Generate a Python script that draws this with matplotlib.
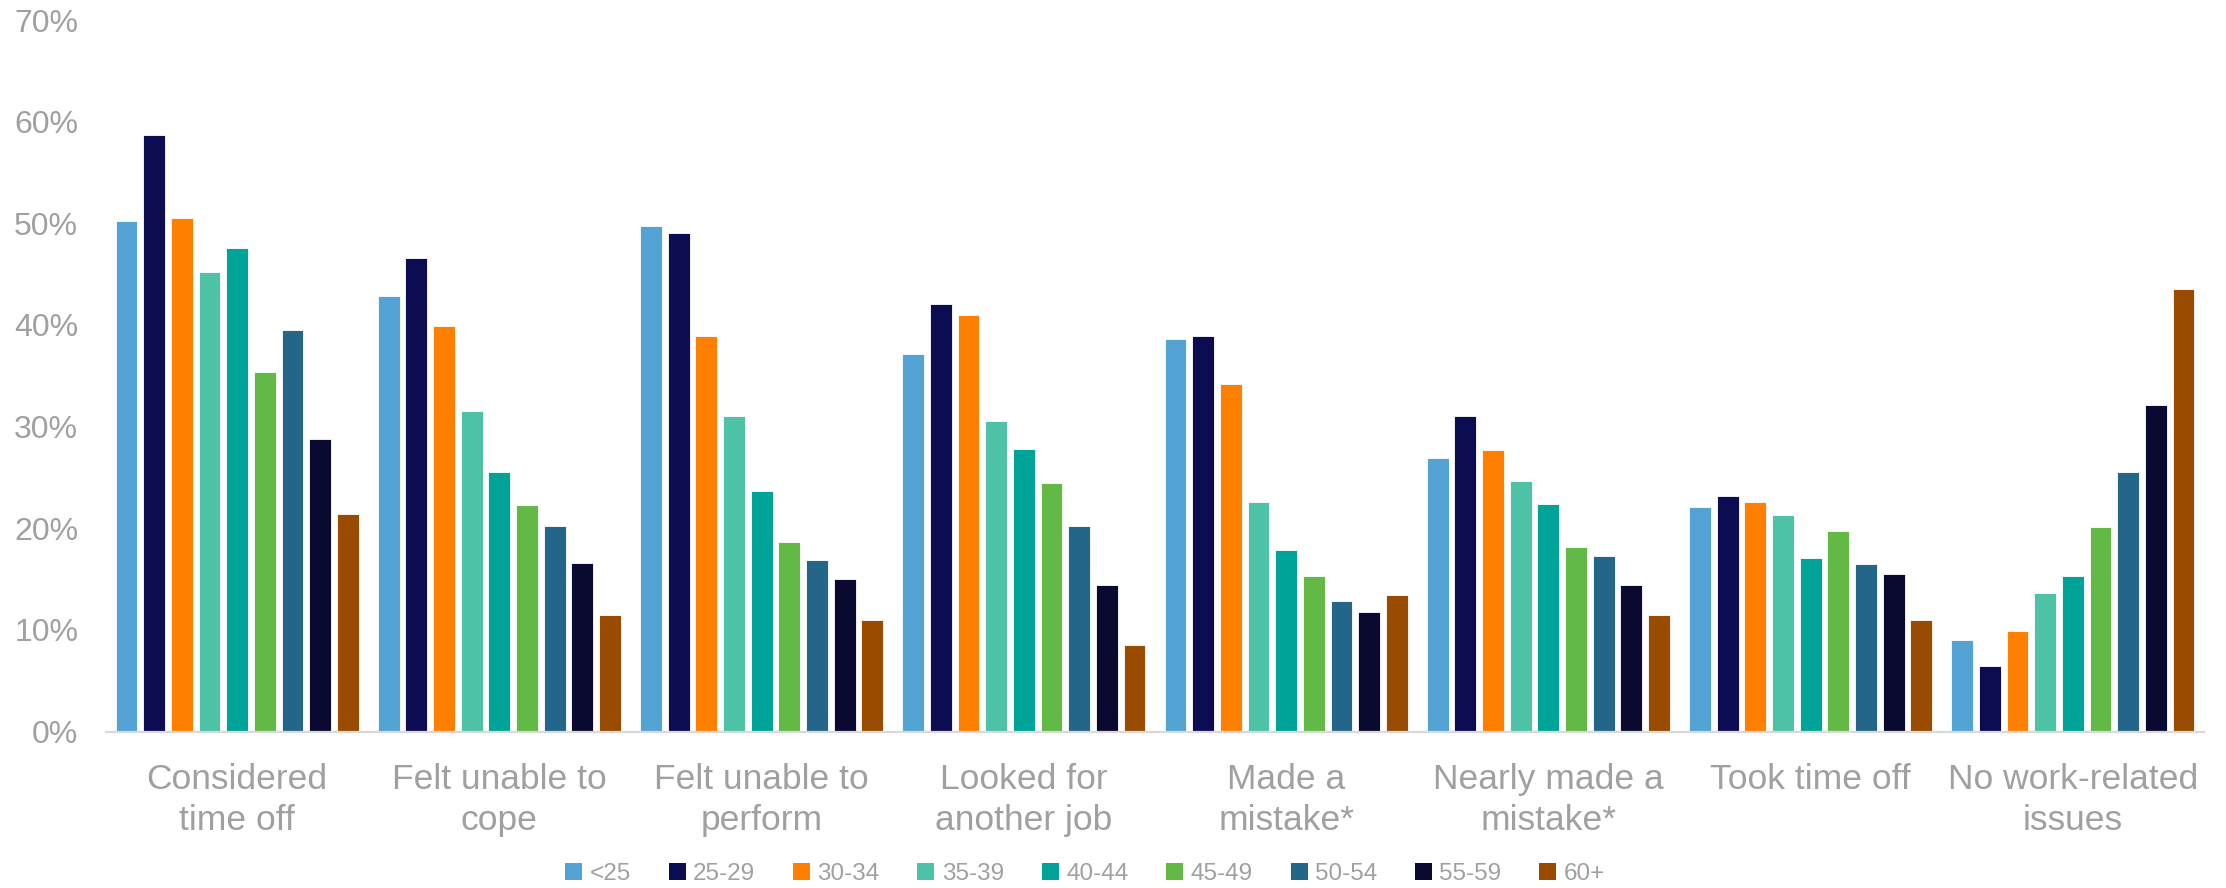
import numpy as np
import matplotlib
matplotlib.use("Agg")
import matplotlib.pyplot as plt
from matplotlib.patches import Patch
from matplotlib.ticker import PercentFormatter

# categories on the x axis (two-line labels)
categories = [
    "Considered\ntime off",
    "Felt unable to\ncope",
    "Felt unable to\nperform",
    "Looked for\nanother job",
    "Made a\nmistake*",
    "Nearly made a\nmistake*",
    "Took time off",
    "No work-related\nissues",
]

age_groups = ["<25", "25-29", "30-34", "35-39", "40-44", "45-49", "50-54", "55-59", "60+"]

# share of respondents (%) per age group, one value per category
under_25 = [50.2, 42.8, 49.7, 37.1, 38.6, 26.9, 22.1, 9.0]
age_25_29 = [58.7, 46.6, 49.0, 42.1, 38.9, 31.0, 23.2, 6.4]
age_30_34 = [50.5, 39.9, 38.9, 41.0, 34.2, 27.7, 22.6, 9.9]
age_35_39 = [45.2, 31.5, 31.0, 30.5, 22.6, 24.6, 21.3, 13.6]
age_40_44 = [47.6, 25.5, 23.7, 27.8, 17.9, 22.4, 17.1, 15.3]
age_45_49 = [35.4, 22.3, 18.6, 24.4, 15.3, 18.2, 19.7, 20.1]
age_50_54 = [39.5, 20.2, 16.9, 20.2, 12.8, 17.3, 16.5, 25.5]
age_55_59 = [28.8, 16.6, 15.0, 14.4, 11.8, 14.4, 15.5, 32.1]
age_60_plus = [21.4, 11.5, 11.0, 8.5, 13.4, 11.5, 11.0, 43.5]

series = [under_25, age_25_29, age_30_34, age_35_39, age_40_44,
          age_45_49, age_50_54, age_55_59, age_60_plus]

colors = ["#53A4D4", "#0C0C52", "#FF8000", "#4DC2A6", "#00A398",
          "#62B946", "#246689", "#0A0A30", "#994C00"]

grey = "#A0A0A0"
plt.rcParams["font.family"] = ["Liberation Sans", "DejaVu Sans"]

fig = plt.figure(figsize=(22.26, 8.88), dpi=100)
ax = fig.add_axes([106 / 2226, 1 - 731.5 / 888, (2204 - 106) / 2226, (731.5 - 20) / 888])

x = np.arange(len(categories))
step = 0.1055
width = 0.083
for i, (vals, col) in enumerate(zip(series, colors)):
    ax.bar(x + (i - 4) * step, vals, width=width, color=col,
           edgecolor="white", linewidth=0.6, label=age_groups[i], zorder=2)

ax.set_xlim(-0.5, len(categories) - 0.5)
ax.set_ylim(0, 70)
ax.set_yticks(np.arange(0, 71, 10))
ax.yaxis.set_major_formatter(PercentFormatter(decimals=0))
ax.set_xticks(x)
ax.set_xticklabels(categories, fontsize=25.5, color=grey, linespacing=1.28)

ax.tick_params(axis="y", length=0, pad=20, labelsize=23, labelcolor=grey)
ax.tick_params(axis="x", length=0, pad=23)

for side in ["top", "right", "left"]:
    ax.spines[side].set_visible(False)
ax.spines["bottom"].set_color("#D9D9D9")
ax.spines["bottom"].set_linewidth(1.6)

handles = [Patch(facecolor=c, edgecolor="none") for c in colors]
fig.legend(handles, age_groups, loc="center", ncol=9,
           bbox_to_anchor=(1085 / 2226, 1 - 874 / 888),
           frameon=False, fontsize=17.5, labelcolor=grey,
           handlelength=0.7, handleheight=0.7, handletextpad=0.3,
           columnspacing=1.56, borderaxespad=0)

fig.savefig("out.png", dpi=100)
